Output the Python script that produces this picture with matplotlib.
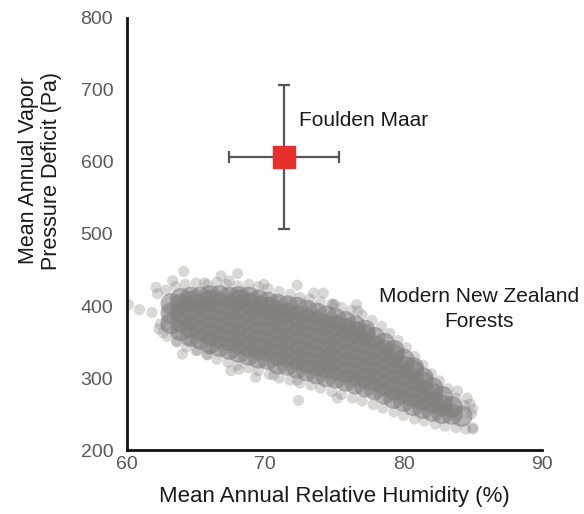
import matplotlib.pyplot as plt

# Foulden Maar estimate with uncertainty
fm_rh = [71.35]
fm_vpd = [607]
fm_rh_err = [4.0]
fm_vpd_err = [100]

# dense core of the modern New Zealand forest cloud: one rh value per column
core_rh = [63.2, 63.9, 64.6, 65.3, 66.0, 66.7, 67.4, 68.1, 68.8, 69.5, 70.2,
           70.9, 71.6, 72.3, 73.0, 73.7, 74.4, 75.1, 75.8, 76.5, 77.2, 77.9,
           78.6, 79.3, 80.0, 80.7, 81.4, 82.1, 82.8, 83.5, 84.2]
core_vpd = [
    [376, 390, 403],
    [366, 378, 390, 402, 410],
    [358, 370, 382, 394, 406, 412],
    [354, 366, 378, 390, 402, 412],
    [348, 360, 372, 384, 396, 408, 414],
    [344, 356, 368, 380, 392, 404, 414],
    [340, 352, 364, 376, 388, 400, 412],
    [336, 348, 360, 372, 384, 396, 408, 413],
    [332, 344, 356, 368, 380, 392, 404, 412],
    [328, 340, 352, 364, 376, 388, 400, 408],
    [326, 338, 350, 362, 374, 386, 398, 405],
    [320, 332, 344, 356, 368, 380, 392, 402],
    [318, 330, 342, 354, 366, 378, 390, 400],
    [314, 326, 338, 350, 362, 374, 386, 398],
    [310, 322, 334, 346, 358, 370, 382, 394],
    [306, 318, 330, 342, 354, 366, 378, 390],
    [302, 314, 326, 338, 350, 362, 374, 386],
    [300, 312, 324, 336, 348, 360, 372, 382],
    [296, 308, 320, 332, 344, 356, 368, 378],
    [292, 304, 316, 328, 340, 352, 364, 372],
    [288, 300, 312, 324, 336, 348, 360, 366],
    [284, 296, 308, 320, 332, 344, 356],
    [278, 290, 302, 314, 326, 338, 348],
    [272, 284, 296, 308, 320, 332, 338],
    [268, 280, 292, 304, 316, 326],
    [262, 274, 286, 298, 310, 314],
    [258, 270, 282, 294, 300],
    [254, 266, 278, 286],
    [251, 262, 274],
    [250, 260],
    [247],
]

# edge and outlying sites
edge_rh = [62.2, 62.8, 63.5, 64.2, 65.0, 65.8, 66.5, 67.2, 68.0, 68.8, 69.5,
           70.2, 71.0, 71.8, 72.5, 73.2, 74.0, 74.8, 75.5, 76.2, 77.0, 77.7,
           78.4, 79.0, 79.6, 80.2, 80.8, 81.4, 82.0, 82.6, 83.2, 83.8, 84.4,
           84.9,
           62.3, 62.9, 63.6, 64.3, 65.0, 65.8, 66.5, 67.3, 68.0, 68.8, 69.5,
           70.3, 71.0, 71.8, 72.5, 73.3, 74.0, 74.8, 75.5, 76.3, 77.0, 77.8,
           78.5, 79.3, 80.0, 80.8, 81.5, 82.3, 83.0, 83.8, 84.5, 85.0,
           60.1, 60.9, 61.8, 62.1, 63.3, 64.1, 65.6, 66.8, 68.0, 67.4, 69.9,
           72.3, 73.5, 74.2, 74.9, 76.6, 76.7, 75.0, 64.0, 65.1, 65.8, 63.6,
           62.6, 62.4, 67.5, 68.1, 69.3, 70.6, 72.3, 72.4, 75.2, 83.9, 84.6,
           84.8, 85.0, 85.0, 62.8, 63.5, 64.5, 66.0]
edge_vpd = [417, 422, 427, 430, 432, 430, 433, 430, 428, 430, 427,
            424, 420, 416, 412, 410, 406, 402, 398, 394, 388, 380,
            372, 362, 352, 342, 330, 318, 306, 296, 285, 272, 262,
            250,
            368, 358, 350, 343, 338, 332, 326, 322, 318, 314, 310,
            305, 300, 297, 293, 290, 286, 281, 277, 272, 268, 263,
            258, 253, 248, 243, 240, 236, 233, 231, 229, 231,
            402, 395, 391, 426, 435, 448, 432, 442, 445, 435, 430,
            429, 418, 418, 403, 402, 393, 402, 333, 338, 333, 351,
            363, 375, 310, 312, 301, 304, 297, 269, 272, 282, 272,
            264, 257, 229, 372, 362, 352, 340]

xticks = [60, 70, 80, 90]
yticks = [200, 300, 400, 500, 600, 700, 800]

plt.rcParams['font.family'] = ['Liberation Sans', 'DejaVu Sans']

fig = plt.figure(figsize=(5.84, 5.14), dpi=100)
ax = fig.add_axes([0.2175, 0.1245, 0.7105, 0.8405])

cloud_color = '#837e7c'
core_x = []
core_y = []
for rh, col in zip(core_rh, core_vpd):
    for v in col:
        core_x.append(rh)
        core_y.append(v)
ax.scatter(core_x, core_y, s=240, color=cloud_color, alpha=0.6,
           edgecolors='none', zorder=2)
ax.scatter(edge_rh, edge_vpd, s=64, color=cloud_color, alpha=0.3,
           edgecolors='none', zorder=2)

ax.errorbar(fm_rh, fm_vpd, xerr=fm_rh_err, yerr=fm_vpd_err, fmt='none',
            ecolor='#555555', elinewidth=1.6, capsize=4.5, capthick=1.6,
            zorder=3)
ax.plot(fm_rh, fm_vpd, marker='s', markersize=15.6, color='#e8302a',
        linestyle='none', zorder=4)

ax.text(72.45, 657, 'Foulden Maar', fontsize=15, color='#1a1a1a',
        ha='left', va='center')
ax.text(85.45, 396, 'Modern New Zealand\nForests', fontsize=15,
        color='#1a1a1a', ha='center', va='center', linespacing=1.4)

ax.set_xlim(60, 90)
ax.set_ylim(200, 800)
ax.set_xticks(xticks)
ax.set_yticks(yticks)
ax.tick_params(length=0, labelsize=14, labelcolor='#595959')
ax.tick_params(axis='y', pad=10)
ax.tick_params(axis='x', pad=4)
for side in ['top', 'right']:
    ax.spines[side].set_visible(False)
for side in ['left', 'bottom']:
    ax.spines[side].set_linewidth(2)
    ax.spines[side].set_color('#111111')

ax.set_xlabel('Mean Annual Relative Humidity (%)', fontsize=16,
              color='#1a1a1a', labelpad=10)
fig.text(0.068, 0.668, 'Mean Annual Vapor\nPressure Deficit (Pa)', fontsize=15.5,
         color='#1a1a1a', rotation=90, ha='center', va='center',
         multialignment='center', linespacing=1.15)

fig.savefig('out.png', dpi=100)
